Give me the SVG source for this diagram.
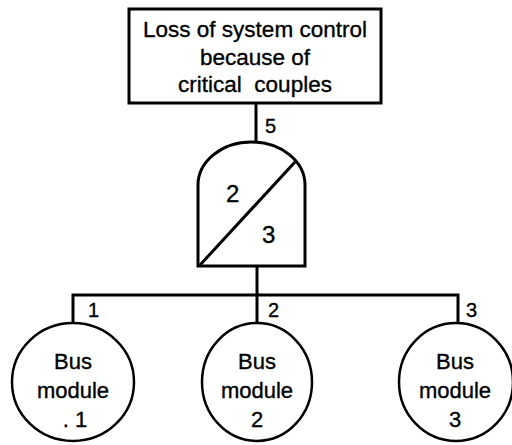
<svg xmlns="http://www.w3.org/2000/svg" width="512" height="445" viewBox="0 0 512 445">
<style>
.s{fill:none;stroke:#000;stroke-width:3}
.n{fill:#fff;stroke:#000;stroke-width:2.5}
text{font-family:"Liberation Sans",Arial,sans-serif;fill:#000;stroke:#000;stroke-width:0.35}
.t{font-size:22.5px;text-anchor:middle}
.c{font-size:22px;text-anchor:middle}
.l{font-size:20px}
.g{font-size:24px}
</style>
<rect width="512" height="445" fill="#fff"/>
<g id="connectors">
<path class="s" d="M256,103V142"/>
<path class="s" d="M257,266V295M73,323V295H458V323M257,295V322"/>
<text class="l" x="265" y="133">5</text>
<text class="l" x="88" y="317">1</text>
<text class="l" x="268" y="317">2</text>
<text class="l" x="466" y="317">3</text>
</g>
<g id="top">
<rect x="129" y="9" width="252" height="94" fill="#fff" stroke="#000" stroke-width="3"/>
<text class="t" x="255" y="37">Loss of system control</text>
<text class="t" x="255" y="65">because of</text>
<text class="t" x="255" y="92">critical&#160; couples</text>
</g>
<g id="gate">
<path class="s" d="M198,266V185A53.5,43 0 0 1 305,185V266Z"/>
<path class="s" d="M200,265L295,162"/>
<text class="g" x="226" y="202">2</text>
<text class="g" x="262" y="243">3</text>
</g>
<g id="bus1">
<ellipse class="n" cx="73" cy="382" rx="61" ry="59"/>
<text class="c" x="73" y="369">Bus</text>
<text class="c" x="73" y="398">module</text>
<text class="c" x="75" y="427">. 1</text>
</g>
<g id="bus2">
<ellipse class="n" cx="257" cy="382" rx="55" ry="59"/>
<text class="c" x="257" y="369">Bus</text>
<text class="c" x="257" y="398">module</text>
<text class="c" x="257" y="427">2</text>
</g>
<g id="bus3">
<ellipse class="n" cx="456" cy="382" rx="57" ry="59"/>
<text class="c" x="455" y="369">Bus</text>
<text class="c" x="455" y="398">module</text>
<text class="c" x="455" y="427">3</text>
</g>
</svg>
